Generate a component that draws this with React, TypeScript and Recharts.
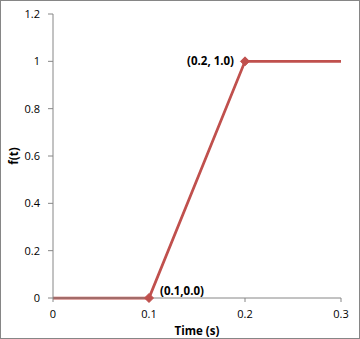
import React from 'react';
import { LineChart, Line, XAxis, YAxis, LabelList } from 'recharts';

const times = [0, 0.1, 0.2, 0.3];
const values = [0, 0, 1, 1];
const pointLabels = ['', '(0.1,0.0)', '(0.2, 1.0)', ''];
const markedIndices = [1, 2];
const xTicks = [0, 0.1, 0.2, 0.3];
const yTicks = [0, 0.2, 0.4, 0.6, 0.8, 1, 1.2];

const data = times.map((t, i) => ({ t, v: values[i], label: pointLabels[i] }));

const FONT = '"Open Sans", "Noto Sans", sans-serif';
const RED = '#C0504D';
const AXIS = '#868686';

const Diamond = (props: any) => {
  const { cx, cy, index } = props;
  if (!markedIndices.includes(index)) return <g key={`d${index}`} />;
  const r = 4.5;
  return (
    <path
      key={`d${index}`}
      d={`M${cx},${cy - r}L${cx + r},${cy}L${cx},${cy + r}L${cx - r},${cy}Z`}
      fill={RED}
      stroke={RED}
    />
  );
};

const PointLabel = (props: any) => {
  const { x, y, value, index } = props;
  if (!value) return null;
  const right = index === 1;
  return (
    <text
      x={right ? x + 11 : x - 11}
      y={right ? y - 7 : y}
      dy="0.35em"
      textAnchor={right ? 'start' : 'end'}
      fontFamily={FONT}
      fontSize={11.5}
      fontWeight="bold"
      fill="#000"
    >
      {value}
    </text>
  );
};

export default function App() {
  return (
    <div style={{ position: 'absolute', left: 0, top: 0, width: 360, height: 339 }}>
      <LineChart
        width={360}
        height={339}
        data={data}
        margin={{ top: 14, right: 19, bottom: 0, left: 0 }}
        style={{ background: '#fff' }}
      >
        <XAxis
          dataKey="t"
          type="number"
          domain={[0, 0.3]}
          ticks={xTicks}
          tickFormatter={(v: number) => String(v)}
          height={41}
          tickSize={4}
          tickMargin={8}
          stroke={AXIS}
          tick={{ fill: '#000', fontSize: 11, fontFamily: FONT }}
          label={{
            value: 'Time (s)',
            position: 'insideBottom',
            offset: 4,
            fill: '#000',
            fontSize: 11.5,
            fontWeight: 'bold',
            fontFamily: FONT,
          }}
        />
        <YAxis
          type="number"
          domain={[0, 1.2]}
          ticks={yTicks}
          tickFormatter={(v: number) => String(v)}
          width={53}
          tickSize={5}
          tickMargin={8}
          stroke={AXIS}
          tick={{ fill: '#000', fontSize: 11, fontFamily: FONT }}
          label={{
            value: 'f(t)',
            angle: -90,
            position: 'insideLeft',
            offset: 14,
            fill: '#000',
            fontSize: 11.5,
            fontWeight: 'bold',
            fontFamily: FONT,
            style: { textAnchor: 'middle' },
          }}
        />
        <Line
          dataKey="v"
          stroke={RED}
          strokeWidth={2.75}
          dot={Diamond}
          activeDot={false}
          isAnimationActive={false}
        >
          <LabelList dataKey="label" content={PointLabel} />
        </Line>
      </LineChart>
      <div
        style={{
          position: 'absolute',
          left: 0,
          top: 0,
          width: 360,
          height: 339,
          boxSizing: 'border-box',
          border: `1px solid ${AXIS}`,
          pointerEvents: 'none',
        }}
      />
    </div>
  );
}
